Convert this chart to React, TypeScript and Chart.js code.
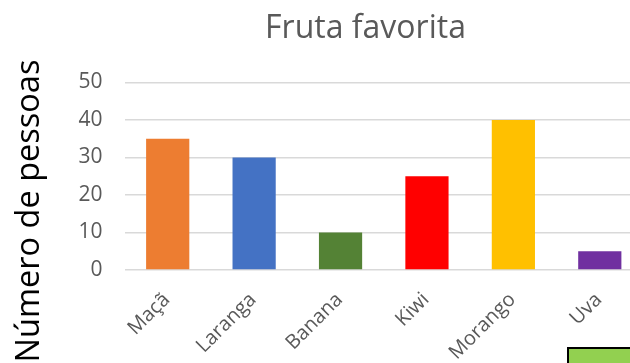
import React, { useEffect, useRef } from "react";
import { Chart, registerables } from "chart.js";

Chart.register(...registerables);

const categories = ["Maçã", "Laranga", "Banana", "Kiwi", "Morango", "Uva"];
const values = [35, 30, 10, 25, 40, 5];
const barColors = ["#ED7D31", "#4472C4", "#548235", "#FF0000", "#FFC000", "#7030A0"];
const chartTitle = "Fruta favorita";
const yAxisTitle = "Número de pessoas";
const yMin = 0;
const yMax = 50;
const yStep = 10;

const yTitlePlugin = {
  id: "yTitlePlugin",
  afterDraw(chart: any) {
    const ctx = chart.ctx;
    ctx.save();
    ctx.translate(30, 211);
    ctx.rotate(-Math.PI / 2);
    ctx.textAlign = "center";
    ctx.textBaseline = "middle";
    ctx.fillStyle = "#000000";
    ctx.font = "32.5px 'Open Sans'";
    ctx.fillText(yAxisTitle, 0, 0);
    ctx.restore();
  },
};

export default function App() {
  const ref = useRef<HTMLCanvasElement | null>(null);
  useEffect(() => {
    if (!ref.current) return;
    const chart = new Chart(ref.current, {
      type: "bar",
      data: {
        labels: categories,
        datasets: [
          {
            data: values,
            backgroundColor: barColors,
            barPercentage: 0.5,
            categoryPercentage: 1,
          },
        ],
      },
      options: {
        animation: false,
        responsive: false,
        layout: { padding: 0 },
        plugins: {
          legend: { display: false },
          tooltip: { enabled: false },
          title: {
            display: true,
            text: chartTitle,
            color: "#595959",
            font: { family: "'Open Sans'", size: 32, weight: "normal", lineHeight: 1.2 },
            padding: { top: 10, bottom: 34 },
          },
        },
        scales: {
          x: {
            grid: { display: false, drawTicks: false },
            border: { display: false },
            ticks: {
              color: "#595959",
              font: { family: "'Open Sans'", size: 20 },
              minRotation: 45,
              maxRotation: 45,
              padding: 18,
              labelOffset: -1,
            },
            afterFit(s: any) {
              s.height = 130;
            },
          },
          y: {
            min: yMin,
            max: yMax,
            grid: { color: "#D9D9D9", lineWidth: 1.5, drawTicks: false },
            border: { display: false },
            ticks: {
              stepSize: yStep,
              color: "#595959",
              font: { family: "'Open Sans'", size: 21 },
              padding: 22,
            },
            afterFit(s: any) {
              s.width = 124.5;
            },
          },
          spacer: {
            type: "linear",
            position: "right",
            display: true,
            grid: { display: false, drawTicks: false },
            border: { display: false },
            ticks: { display: false },
            afterFit(s: any) {
              s.width = 88;
            },
          },
        },
      },
      plugins: [yTitlePlugin],
    });
    return () => chart.destroy();
  }, []);

  return (
    <div style={{ position: "fixed", left: 0, top: 0, width: 630, height: 363, overflow: "hidden", background: "#fff" }}>
      <canvas ref={ref} width={731} height={400} style={{ width: 731, height: 400, display: "block" }} />
      <div
        style={{
          position: "absolute",
          left: 567,
          top: 347,
          width: 100,
          height: 40,
          background: "#92D050",
          border: "2px solid #000",
        }}
      />
    </div>
  );
}
